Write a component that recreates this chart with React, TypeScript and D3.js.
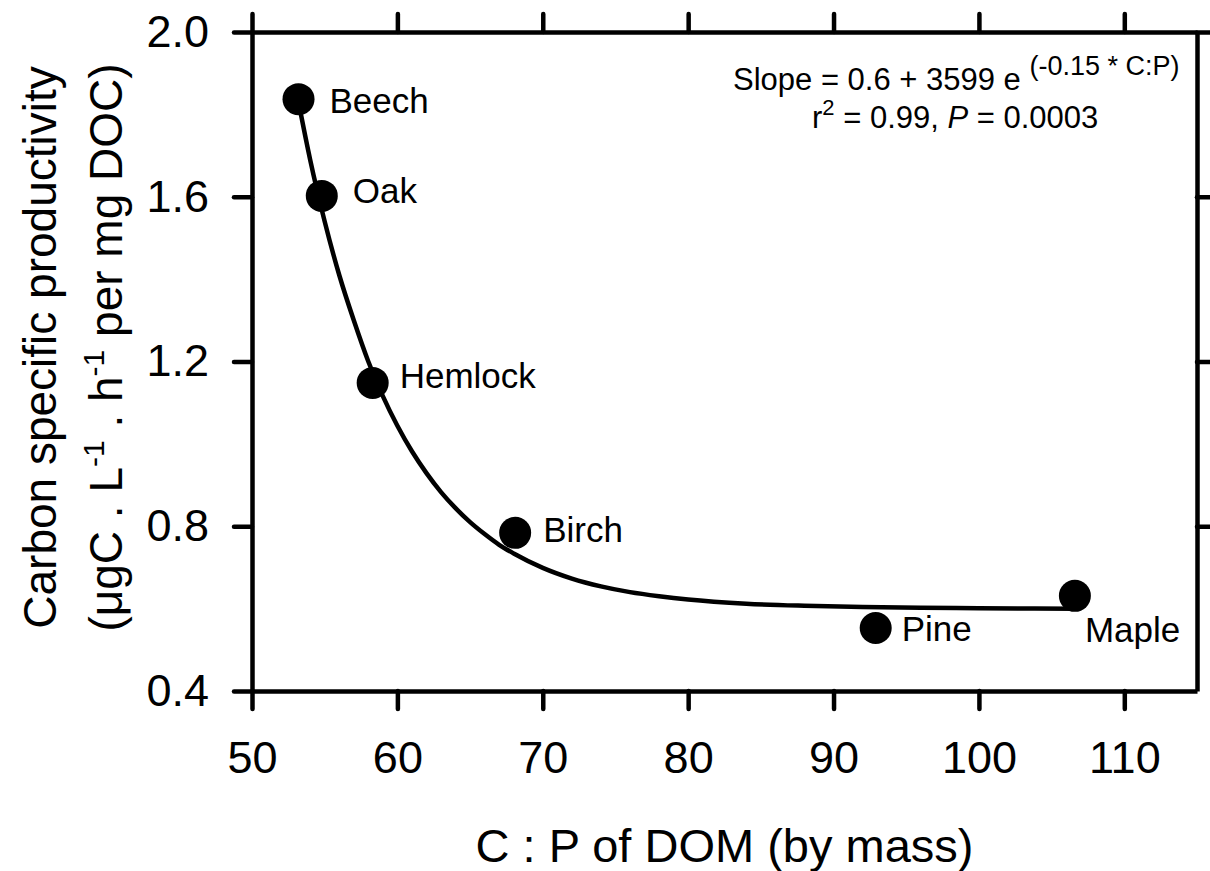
// Scatter of carbon specific productivity vs C:P of DOM, with fitted exponential decay curve

import React, { useEffect, useRef } from "react"
import * as d3 from "d3"

const species = ["Beech", "Oak", "Hemlock", "Birch", "Pine", "Maple"]
const cpRatio = [53.2, 54.8, 58.3, 68.1, 92.9, 106.6]
const productivity = [1.837, 1.602, 1.148, 0.784, 0.553, 0.631]

// fitted curve
const curveCP = [53.2, 54, 55, 56, 57, 58, 59, 60, 61, 62, 63, 64, 65, 66, 67, 68, 70, 72, 74, 76, 78, 80, 84, 88, 92, 96, 100, 106.6]
const curveProd = [1.83, 1.69, 1.54, 1.41, 1.30, 1.20, 1.116, 1.044, 0.982, 0.929, 0.883, 0.844, 0.81, 0.781, 0.755, 0.734, 0.699, 0.673, 0.654, 0.64, 0.63, 0.622, 0.612, 0.607, 0.604, 0.602, 0.601, 0.6]

const xTicks = [50, 60, 70, 80, 90, 100, 110]
const yTicks = [0.4, 0.8, 1.2, 1.6, 2.0]

// label offsets from each dot (px)
const labelDx = [31, 31, 27, 28, 26, 10]
const labelDy = [14, 7, 5, 9, 13, 46]

const FONT = "'Liberation Sans', Arial, Helvetica, sans-serif"

function App() {
  const ref = useRef(null)

  useEffect(() => {
    const svg = d3.select(ref.current)
    svg.selectAll("*").remove()

    const left = 252, right = 1197, top = 32, bottom = 691

    const x = d3.scaleLinear().domain([50, 115]).range([left, right])
    const y = d3.scaleLinear().domain([0.4, 2.0]).range([bottom, top])

    const styleAxis = (g) => {
      g.select(".domain").attr("stroke", "#000").attr("stroke-width", 4.5)
      g.selectAll(".tick line").attr("stroke", "#000").attr("stroke-width", 4.5).attr("stroke-linecap", "round")
      g.selectAll(".tick text").attr("fill", "#000").style("font-family", FONT).style("font-size", "45px")
    }

    // bottom axis
    svg.append("g")
      .attr("transform", `translate(0,${bottom})`)
      .call(d3.axisBottom(x).tickValues(xTicks).tickSize(18).tickSizeOuter(0).tickPadding(32).tickFormat(d3.format("d")))
      .call(styleAxis)

    // top axis (ticks only)
    svg.append("g")
      .attr("transform", `translate(0,${top})`)
      .call(d3.axisTop(x).tickValues(xTicks).tickSize(18).tickSizeOuter(0).tickFormat(() => ""))
      .call(styleAxis)

    // left axis
    svg.append("g")
      .attr("transform", `translate(${left},0)`)
      .call(d3.axisLeft(y).tickValues(yTicks).tickSize(18).tickSizeOuter(0).tickPadding(25).tickFormat(d3.format(".1f")))
      .call(styleAxis)

    // right axis (ticks only)
    svg.append("g")
      .attr("transform", `translate(${right},0)`)
      .call(d3.axisRight(y).tickValues(yTicks.slice(1)).tickSize(18).tickSizeOuter(0).tickFormat(() => ""))
      .call(styleAxis)

    // fitted curve
    const line = d3.line()
      .x(d => x(d[0]))
      .y(d => y(d[1]))
      .curve(d3.curveMonotoneX)

    svg.append("path")
      .datum(curveCP.map((c, i) => [c, curveProd[i]]))
      .attr("d", line)
      .attr("fill", "none")
      .attr("stroke", "#000")
      .attr("stroke-width", 4.5)

    // points
    const pts = species.map((s, i) => ({ s, cp: cpRatio[i], p: productivity[i], dx: labelDx[i], dy: labelDy[i] }))

    svg.selectAll(".dot")
      .data(pts)
      .enter()
      .append("circle")
      .attr("cx", d => x(d.cp))
      .attr("cy", d => y(d.p))
      .attr("r", 16)
      .attr("fill", "#000")

    svg.selectAll(".lbl")
      .data(pts)
      .enter()
      .append("text")
      .attr("x", d => x(d.cp) + d.dx)
      .attr("y", d => y(d.p) + d.dy)
      .style("font-family", FONT)
      .style("font-size", "35px")
      .text(d => d.s)

    // equation annotation
    const eq = svg.append("text")
      .attr("x", 733)
      .attr("y", 90)
      .style("font-family", FONT)
      .style("font-size", "31px")
    eq.append("tspan").text("Slope = 0.6 + 3599 e ")
    eq.append("tspan").attr("dy", -15).style("font-size", "27px").text("(-0.15 * C:P)")

    const stat = svg.append("text")
      .attr("x", 812)
      .attr("y", 128)
      .style("font-family", FONT)
      .style("font-size", "31px")
    stat.append("tspan").text("r")
    stat.append("tspan").attr("dy", -13).style("font-size", "22px").text("2")
    stat.append("tspan").attr("dy", 13).text(" = 0.99, ")
    stat.append("tspan").style("font-style", "italic").text("P")
    stat.append("tspan").text(" = 0.0003")

    // x axis title
    svg.append("text")
      .attr("x", (left + right) / 2)
      .attr("y", 862)
      .attr("text-anchor", "middle")
      .style("font-family", FONT)
      .style("font-size", "47px")
      .text("C : P of DOM (by mass)")

    // y axis title (two lines)
    svg.append("text")
      .attr("transform", `translate(56,${(top + bottom) / 2 - 14}) rotate(-90)`)
      .attr("text-anchor", "middle")
      .style("font-family", FONT)
      .style("font-size", "46px")
      .text("Carbon specific productivity")

    const yt2 = svg.append("text")
      .attr("transform", `translate(122,${(top + bottom) / 2 - 14}) rotate(-90)`)
      .attr("text-anchor", "middle")
      .style("font-family", FONT)
      .style("font-size", "46px")
    yt2.append("tspan").text("(μgC . L")
    yt2.append("tspan").attr("dy", -18).style("font-size", "30px").text("-1")
    yt2.append("tspan").attr("dy", 18).text(" . h")
    yt2.append("tspan").attr("dy", -18).style("font-size", "30px").text("-1")
    yt2.append("tspan").attr("dy", 18).text("  per mg DOC)")
  }, [])

  return (
    <svg
      ref={ref}
      width={1210}
      height={871}
      style={{ position: "absolute", left: 0, top: 0, background: "#fff" }}
    ></svg>
  )
}

export default App
